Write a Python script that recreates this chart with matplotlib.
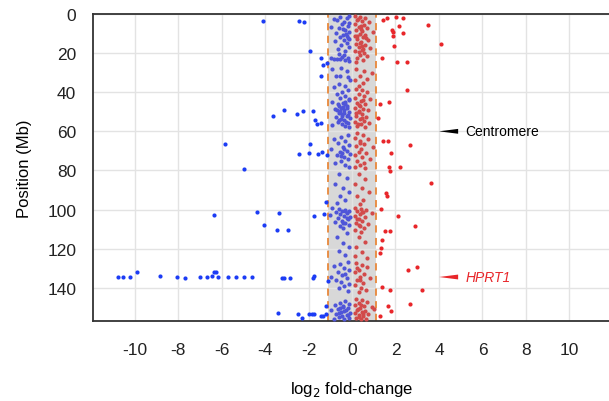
import matplotlib
matplotlib.use("Agg")
import matplotlib.pyplot as plt

plt.rcParams['font.family'] = ['Liberation Sans', 'DejaVu Sans']
plt.rcParams['axes.unicode_minus'] = False

# ---------------- data ----------------
x_ticks = [-10, -8, -6, -4, -2, 0, 2, 4, 6, 8, 10]
y_ticks = [0, 20, 40, 60, 80, 100, 120, 140]
band_lo, band_hi = -1.1, 1.1

# significant (outside band) depleted genes
blue_out_x = [-4.09, -2.44, -2.2, -1.93, -1.43, -1.33, -1.15, -1.43, -3.63, -3.13, -2.53, -2.25,
              -1.79, -1.70, -1.61, -1.43, -5.84, -1.93, -2.44, -1.98, -1.56, -1.38, -1.15, -4.97,
              -6.34, -4.37, -3.36, -1.75, -1.29, -1.2, -4.05, -3.45, -2.94,
              -10.74, -10.51, -10.22, -9.90, -8.83, -8.06, -7.68, -6.97, -6.68, -6.42, -6.33, -6.25,
              -6.15, -5.69, -5.33, -4.97, -4.6, -3.23, -3.11, -2.87, -1.81, -1.73, -1.12,
              -3.39, -2.47, -2.28, -1.98, -1.85, -1.73, -1.43, -1.32, -1.18, -1.18]
blue_out_y = [3.6, 3.6, 4.2, 18.8, 22.7, 25.9, 25.3, 31.6, 52.4, 49.2, 50.9, 49.8,
              49.4, 54.0, 56.2, 55.7, 66.6, 66.6, 71.8, 71.1, 71.6, 70.6, 72.1, 79.4,
              102.8, 101.3, 101.8, 103.2, 102.3, 96.0, 107.9, 110.5, 110.5,
              134.4, 134.4, 134.5, 131.8, 133.8, 134.5, 134.9, 134.5, 134.7, 134.2, 131.8, 131.8,
              134.5, 134.4, 134.4, 134.5, 134.5, 134.9, 134.9, 134.9, 134.9, 134.2, 136.6,
              152.9, 153.6, 155.3, 153.4, 153.4, 153.4, 154.6, 154.6, 153.6, 149.2]

# significant (outside band) enriched genes
red_out_x = [1.43, 1.61, 2.02, 2.34, 2.16, 1.84, 1.89, 2.34, 1.89, 3.49, 4.09, 1.93, 1.38, 2.07,
             2.53, 2.53, 1.29, 1.70, 1.20, 1.43, 1.66, 2.67, 1.79, 1.70, 1.75, 2.21, 3.63, 1.56,
             1.61, 1.33, 2.12, 2.9, 1.52, 1.75, 1.38, 1.33, 1.29, 2.57, 2.99, 1.38, 1.75, 3.22,
             1.66, 1.79, 2.67, 1.29]
red_out_y = [3.1, 2.0, 1.6, 1.9, 6.0, 8.2, 9.2, 9.9, 11.4, 5.5, 15.3, 16.2, 22.5, 24.4,
             24.4, 38.7, 46.0, 45.2, 53.2, 64.8, 64.8, 67.2, 71.1, 78.4, 80.3, 78.2, 86.4, 91.3,
             93.0, 99.7, 103.2, 108.4, 111.0, 111.0, 115.6, 119.7, 122.3, 130.9, 129.4, 139.6, 141.2, 141.2,
             149.4, 151.9, 148.3, 154.5]

# non-significant (inside band) negative fold-change
blue_in_x = [-0.15, -0.25, -0.55, -0.85, -0.7, -0.35, -0.12, -0.45, -0.2, -0.95, -0.6, -0.3, -0.15,
             -0.75, -0.4, -0.22, -0.55, -0.12, -0.35, -0.8, -0.25, -0.5, -0.15, -0.65, -0.3,
             -0.95, -0.85, -0.7, -0.55, -0.45, -0.3, -0.2, -0.12, -0.6, -0.35,
             -0.9, -0.5, -0.25, -0.75, -0.55, -0.2, -0.1, -0.6, -0.3, -0.85,
             -0.2, -0.45, -0.7, -0.3, -0.55, -0.15, -0.9, -0.4, -0.65, -0.25, -0.5, -0.8, -0.35,
             -0.15, -0.6, -0.45, -0.25, -0.75, -0.1, -0.5, -0.35, -0.65, -0.2, -0.45, -0.9, -0.3,
             -0.15, -0.55, -0.4, -0.3, -0.2, -0.6, -0.7,
             -0.2, -0.5, -0.85, -0.3, -0.65, -0.15, -0.4, -0.95, -0.25, -0.55, -0.1, -0.7, -0.35,
             -0.2, -0.5, -0.8, -0.3, -0.15, -0.45,
             -0.6, -0.25, -0.8, -0.4, -0.15, -0.55, -0.3, -0.7,
             -0.9, -0.6, -0.3, -0.15, -0.45, -0.75, -0.25, -0.55, -1.0, -0.35, -0.1, -0.65, -0.2,
             -0.45, -0.8, -0.3, -0.15, -0.55, -0.4,
             -0.25, -0.7, -0.4, -0.15, -0.6, -0.3,
             -0.2, -0.55, -0.85, -0.35, -0.15, -0.65, -0.45, -0.95, -0.25, -0.75, -0.5, -0.15,
             -0.35, -0.6, -0.2,
             -0.3, -0.55, -0.15, -0.8, -0.4, -0.2, -0.65, -0.95, -0.35, -0.5, -0.1, -0.75, -0.25,
             -0.45, -0.6, -0.15, -0.35, -0.85, -0.55,
             -0.28, -0.18, -0.42, -0.33, -0.22, -0.48, -0.38, -0.27, -0.12, -0.58, -0.32, -0.24,
             -0.42, -0.36, -0.52, -0.28, -0.18, -0.62, -0.4, -0.3]
blue_in_y = [1, 2, 1.5, 2.5, 3, 4, 4.5, 5, 6, 6.5, 7, 8, 9,
             9.5, 10.5, 11, 12, 13, 13.5, 14, 15, 16, 17, 18, 19,
             22.5, 23, 22.8, 23, 22, 23.5, 22.5, 24, 20.5, 21,
             28, 27.5, 29, 31.5, 31.5, 32, 34, 36, 37, 37.5,
             39, 40, 41, 42, 43, 44, 45, 45.5, 46, 47, 48, 48.5, 49,
             50, 50.5, 51, 52, 52.5, 53, 53.5, 54, 55, 55.5, 56, 57, 57.5,
             58, 49.5, 47.5, 45, 51.5, 54, 49,
             62, 63, 64, 65, 66, 67, 68, 69, 70, 70.5, 71.5, 72, 73,
             74, 75, 76, 77, 78, 71,
             82, 84, 87, 89, 91, 93, 95, 96.5,
             99, 99.5, 100, 100.5, 101, 101.5, 102, 102.5, 103, 103.5, 104, 104.5, 105,
             106, 106.5, 107, 108, 108.5, 109.5,
             112, 114, 117, 119, 121, 123,
             127, 128, 129, 130, 131, 132, 133.5, 134.5, 135, 136, 137, 138,
             139, 140, 141.5,
             147, 148, 148.5, 149, 150, 150.5, 151, 151.5, 152, 152.5, 153, 153.5, 154,
             154.5, 155, 155.5, 156, 155.8, 150.2,
             10, 12.5, 7.5, 46, 48, 52, 50.8, 55, 43.5, 47, 101, 104.2,
             106.8, 69, 72.5, 151.2, 153.8, 153, 149.5, 133]

# non-significant (inside band) positive fold-change
red_in_x = [0.15, 0.35, 0.6, 0.25, 0.45, 0.8, 0.15, 0.55, 0.3, 0.7, 0.2, 0.45, 0.95, 0.35, 0.6,
            0.15, 0.5, 0.25, 0.75, 0.4, 0.2, 0.6, 0.3, 0.85, 0.45, 0.15, 0.55, 0.35, 0.7, 0.25,
            0.5, 0.4, 0.65, 0.3, 0.2,
            0.2, 0.55, 0.9, 0.35, 0.7, 0.15, 0.5, 0.3,
            0.2, 0.45, 0.7, 0.3, 0.55, 0.15, 0.85, 0.4, 0.25, 0.6, 0.35, 0.15, 0.5, 0.75, 0.3,
            0.45, 0.2, 0.65, 0.35, 0.55, 0.15, 0.8, 0.4, 0.25, 0.6, 0.5, 0.3,
            0.25, 0.5, 0.15, 0.75, 0.35, 0.55, 0.2, 0.95, 0.4, 0.3, 0.65, 0.15, 0.45, 0.85, 0.25,
            0.55, 0.35, 0.15, 0.6,
            0.3, 0.6, 0.15, 0.45, 0.8, 0.25, 0.5, 0.35,
            0.15, 0.4, 0.65, 0.25, 0.5, 0.9, 0.35, 0.15, 0.6, 0.3, 0.45, 0.2, 0.75, 0.35, 0.55,
            0.15, 0.4,
            0.3, 0.6, 0.2, 0.45, 0.15, 0.7,
            0.2, 0.45, 0.7, 0.3, 0.15, 0.55, 0.35, 0.85, 0.25, 0.5, 0.15, 0.4, 0.65, 0.3,
            0.2, 0.45, 0.7, 0.3, 0.15, 0.55, 0.9, 0.35, 0.25, 0.6, 0.45, 0.15, 0.75, 0.3, 0.5,
            0.2, 0.4, 0.65, 1.0,
            0.28, 0.42, 0.22, 0.38, 0.52, 0.32, 0.18, 0.48, 0.27, 0.36, 0.44, 0.24, 0.33,
            0.41, 0.26, 0.5, 0.3, 0.38, 0.22, 0.46]
red_in_y = [1, 1.5, 2, 3, 3.5, 4, 5, 5.5, 6.5, 7, 8, 8.5, 9, 10, 10.5,
            11.5, 12, 13, 13.5, 14.5, 15.5, 16, 17, 17.5, 18.5, 19, 20, 21, 21.5, 22.5,
            23.5, 6, 12.5, 19.5, 24.5,
            28, 29, 30, 31.5, 33, 34, 35.5, 37,
            38.5, 39, 40, 41, 42, 43, 43.5, 44.5, 45.5, 46, 47, 48, 48.5, 49, 50,
            51, 52, 52.5, 53.5, 54.5, 55, 55.5, 56.5, 57.5, 58, 44, 49.5,
            61, 62, 63.5, 64, 65, 66.5, 67.5, 68, 69, 70.5, 71, 72, 73, 74, 75,
            76, 77, 78, 78.5,
            82, 84.5, 87, 89, 91, 93, 95, 97,
            99, 99.5, 100, 101, 101.5, 102, 102.5, 103.5, 104, 105, 106, 107, 107.5, 108.5, 109.5,
            110.5, 111.5,
            114, 116.5, 119, 121.5, 124, 125,
            127.5, 128.5, 129.5, 131, 132, 133, 134.5, 135, 136, 137.5, 138.5, 140, 141, 142,
            146, 146.5, 147.5, 148, 149, 149.5, 150, 150.5, 151.5, 152, 152.5, 153, 153.5, 154, 154.5,
            155.5, 156, 155.8, 151,
            2.5, 7.5, 11, 15, 18, 46.5, 50.5, 53, 56, 66, 101.2, 104.8, 108,
            148.8, 151, 153.2, 155, 135.8, 130, 16.5]

centromere_pos = 60
hprt1_pos = 134.5
label_x = 4.0

# ---------------- plot ----------------
fig = plt.figure(figsize=(6.09, 4.02), dpi=100)
ax = fig.add_axes([93 / 609, 1 - 322 / 402, (611 - 93) / 609, (322 - 15) / 402])

ax.set_xlim(-11.91, 11.91)
ax.set_ylim(157, 0)
ax.set_xticks(x_ticks)
ax.set_yticks(y_ticks)
ax.grid(True, color='#e3e3e3', lw=1.0, zorder=0)
ax.set_axisbelow(True)

ax.axvspan(band_lo, band_hi, color='#c8c8c8', alpha=0.7, zorder=0.5, lw=0)
ax.axvline(band_lo, color='#e8883a', ls=(0, (4, 3)), lw=1.3, zorder=1)
ax.axvline(band_hi, color='#e8883a', ls=(0, (4, 3)), lw=1.3, zorder=1)

ms = 9
ax.scatter(blue_in_x, blue_in_y, s=ms, color='#4f55d8', lw=0, zorder=3)
ax.scatter(red_in_x, red_in_y, s=ms, color='#d24a4a', lw=0, zorder=3)
ax.scatter(blue_out_x, blue_out_y, s=ms, color='#1c3cf5', lw=0, zorder=3)
ax.scatter(red_out_x, red_out_y, s=ms, color='#e8262a', lw=0, zorder=3)

ax.annotate('Centromere', xy=(label_x, centromere_pos), xytext=(5.2, centromere_pos),
            ha='left', va='center', fontsize=10, color='black',
            arrowprops=dict(arrowstyle='wedge,tail_width=0.35,shrink_factor=0.5',
                            color='black', shrinkA=3, shrinkB=0, lw=0))
ax.annotate('HPRT1', xy=(label_x, hprt1_pos), xytext=(5.2, hprt1_pos),
            ha='left', va='center', fontsize=10, color='#e8262a', style='italic',
            arrowprops=dict(arrowstyle='wedge,tail_width=0.35,shrink_factor=0.5',
                            color='#e8262a', shrinkA=3, shrinkB=0, lw=0))

for s in ['left', 'bottom', 'top']:
    ax.spines[s].set_color('#333333')
    ax.spines[s].set_linewidth(1.3)
ax.spines['right'].set_visible(False)

ax.tick_params(axis='both', length=0, labelsize=12.5, colors='#222222')
ax.tick_params(axis='x', pad=15)
ax.tick_params(axis='y', pad=12)

ax.set_ylabel('Position (Mb)', fontsize=12, labelpad=11)
ax.set_xlabel(r'log$_2$ fold-change', fontsize=12, labelpad=16)

fig.savefig('out.png', dpi=100)
